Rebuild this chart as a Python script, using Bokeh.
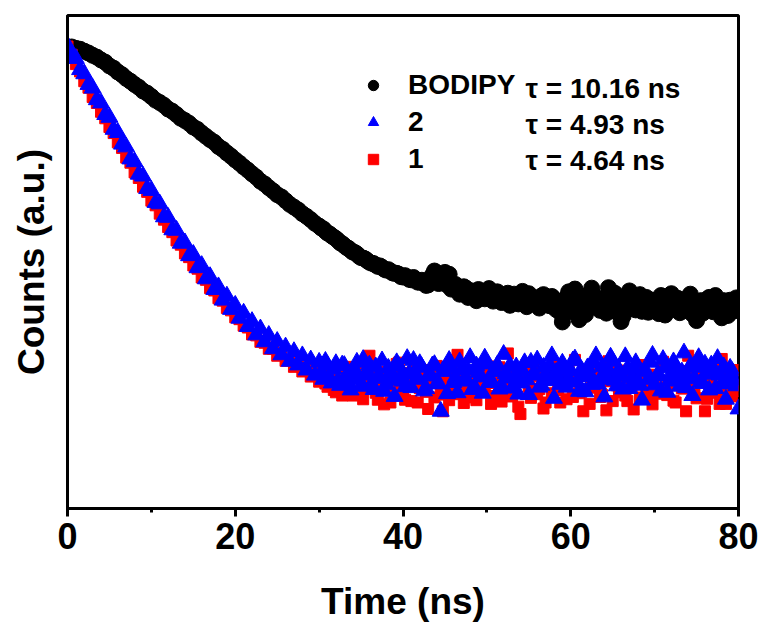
from bokeh.plotting import figure
from bokeh.models import (Range1d, SingleIntervalTicker, FixedTicker, Legend,
                          LegendItem, Label, ColumnDataSource)
from bokeh.embed import file_html
from bokeh.resources import INLINE

# ---------------- data ----------------
# main sampling grid (ns)
TIME_NS = [
    0.0, 0.5, 1.0, 1.5, 2.0, 2.5, 3.0, 3.5, 4.0, 4.5, 5.0, 5.5, 6.0, 6.5, 7.0, 7.5,
    8.0, 8.5, 9.0, 9.5, 10.0, 10.5, 11.0, 11.5, 12.0, 12.5, 13.0, 13.5, 14.0, 14.5,
    15.0, 15.5, 16.0, 16.5, 17.0, 17.5, 18.0, 18.5, 19.0, 19.5, 20.0, 20.5, 21.0,
    21.5, 22.0, 22.5, 23.0, 23.5, 24.0, 24.5, 25.0, 25.5, 26.0, 26.5, 27.0, 27.5,
    28.0, 28.5, 29.0, 29.5, 30.0, 30.5, 31.0, 31.5, 32.0, 32.5, 33.0, 33.5, 34.0,
    34.5, 35.0, 35.5, 36.0, 36.5, 37.0, 37.5, 38.0, 38.5, 39.0, 39.5, 40.0, 40.5,
    41.0, 41.5, 42.0, 42.5, 43.0, 43.5, 44.0, 44.5, 45.0, 45.5, 46.0, 46.5, 47.0,
    47.5, 48.0, 48.5, 49.0, 49.5, 50.0, 50.5, 51.0, 51.5, 52.0, 52.5, 53.0, 53.5,
    54.0, 54.5, 55.0, 55.5, 56.0, 56.5, 57.0, 57.5, 58.0, 58.5, 59.0, 59.5, 60.0,
    60.5, 61.0, 61.5, 62.0, 62.5, 63.0, 63.5, 64.0, 64.5, 65.0, 65.5, 66.0, 66.5,
    67.0, 67.5, 68.0, 68.5, 69.0, 69.5, 70.0, 70.5, 71.0, 71.5, 72.0, 72.5, 73.0,
    73.5, 74.0, 74.5, 75.0, 75.5, 76.0, 76.5, 77.0, 77.5, 78.0, 78.5, 79.0, 79.5,
    80.0,
]

# in-between samples of the tail (ns)
TIME_NS_TAIL = [
    30.25, 30.75, 31.25, 31.75, 32.25, 32.75, 33.25, 33.75, 34.25, 34.75,
    35.25, 35.75, 36.25, 36.75, 37.25, 37.75, 38.25, 38.75, 39.25, 39.75,
    40.25, 40.75, 41.25, 41.75, 42.25, 42.75, 43.25, 43.75, 44.25, 44.75,
    45.25, 45.75, 46.25, 46.75, 47.25, 47.75, 48.25, 48.75, 49.25, 49.75,
    50.25, 50.75, 51.25, 51.75, 52.25, 52.75, 53.25, 53.75, 54.25, 54.75,
    55.25, 55.75, 56.25, 56.75, 57.25, 57.75, 58.25, 58.75, 59.25, 59.75,
    60.25, 60.75, 61.25, 61.75, 62.25, 62.75, 63.25, 63.75, 64.25, 64.75,
    65.25, 65.75, 66.25, 66.75, 67.25, 67.75, 68.25, 68.75, 69.25, 69.75,
    70.25, 70.75, 71.25, 71.75, 72.25, 72.75, 73.25, 73.75, 74.25, 74.75,
    75.25, 75.75, 76.25, 76.75, 77.25, 77.75, 78.25, 78.75, 79.25, 79.75,
]

BODIPY_COUNTS = [
    99.6, 99.7, 99.4, 99.2, 98.8, 98.4, 97.9, 97.5, 96.9, 96.4, 95.6, 95.1, 94.3,
    93.7, 92.9, 92.3, 91.6, 91.0, 90.2, 89.7, 89.0, 88.2, 87.7, 87.1, 86.3, 85.8,
    85.1, 84.3, 83.8, 83.2, 82.4, 81.9, 81.1, 80.4, 79.7, 79.1, 78.2, 77.6, 76.8,
    76.1, 75.3, 74.6, 73.8, 73.1, 72.3, 71.6, 70.7, 70.1, 69.3, 68.6, 67.8, 67.3,
    66.5, 65.7, 65.1, 64.5, 63.7, 63.1, 62.4, 61.6, 61.0, 60.4, 59.5, 58.9, 58.3,
    57.4, 56.8, 56.2, 55.4, 55.0, 54.2, 53.9, 53.2, 52.9, 52.3, 52.1, 51.5, 51.3,
    50.8, 50.6, 50.0, 49.9, 49.4, 49.5, 48.9, 48.8, 48.3, 50.4, 50.9, 49.8, 51.0,
    50.6, 47.9, 47.0, 46.8, 47.6, 46.2, 45.9, 47.3, 46.6, 45.6, 46.9, 45.4, 46.0,
    45.1, 46.5, 44.7, 45.8, 45.2, 44.3, 46.4, 45.0, 44.1, 45.9, 44.6, 43.8, 45.3,
    44.2, 40.3, 45.6, 43.6, 47.4, 40.8, 44.9, 43.2, 47.6, 44.5, 42.8, 45.4, 47.7,
    43.9, 42.4, 40.4, 45.2, 47.0, 43.5, 44.8, 42.6, 45.6, 43.3, 44.2, 42.1, 45.3,
    43.0, 46.4, 44.4, 42.3, 45.1, 43.7, 42.0, 40.6, 44.9, 43.1, 45.6, 42.5, 44.3,
    41.2, 43.6, 45.0, 42.7, 44.8,
]

BODIPY_COUNTS_TAIL = [
    60.6, 59.9, 59.3, 58.6, 57.9, 57.2, 56.4, 55.8, 55.3, 54.5,
    54.1, 53.5, 53.0, 52.6, 52.4, 51.7, 51.6, 50.9, 50.8, 50.1,
    50.3, 49.5, 49.9, 48.9, 49.3, 48.2, 49.2, 51.3, 48.6, 50.2,
    48.3, 47.4, 48.4, 46.3, 47.9, 45.6, 47.0, 44.9, 46.2, 45.3,
    47.5, 44.8, 46.8, 44.5, 45.7, 43.9, 46.3, 44.2, 46.9, 43.6,
    45.5, 44.7, 43.3, 46.2, 44.0, 45.8, 43.0, 42.3, 44.8, 46.8,
    42.5, 44.1, 45.9, 41.9, 44.6, 46.1, 43.4, 45.2, 42.2, 44.0,
    46.5, 43.6, 41.6, 44.4, 45.8, 42.9, 46.2, 44.1, 42.4, 45.0,
    43.8, 46.0, 41.8, 44.6, 43.1, 45.4, 42.6, 44.2, 46.3, 43.0,
    44.5, 42.2, 45.2, 43.4, 46.0, 42.8, 44.9, 41.7, 43.9, 45.5,
]

COUNTS_2 = [
    100.0, 98.1, 97.2, 94.8, 93.9, 91.6, 90.8, 88.3, 87.6, 85.1, 84.5, 81.9, 81.2,
    78.7, 78.1, 75.5, 74.9, 72.2, 71.8, 69.1, 68.7, 66.1, 65.8, 63.0, 62.9, 60.2,
    60.1, 57.3, 57.4, 54.6, 54.9, 52.0, 52.5, 49.6, 50.1, 47.3, 47.9, 45.0, 45.9,
    43.0, 43.9, 41.1, 42.2, 39.3, 40.4, 37.5, 38.8, 36.0, 37.4, 34.5, 36.1, 33.2,
    34.9, 31.8, 33.9, 31.0, 33.0, 29.9, 32.1, 28.8, 31.6, 27.9, 30.9, 27.1, 31.3,
    26.6,
    30.9, 27.0, 29.1, 31.6, 26.4, 28.8, 31.0, 25.7, 28.4, 31.9,
    26.8, 29.3, 24.2, 30.7, 27.5, 32.4, 26.1, 29.0, 31.3, 25.4,
    28.6, 30.8, 26.9, 21.0, 29.6, 32.0, 27.2, 25.0, 30.1, 28.0,
    32.6, 26.3, 29.4, 24.9, 31.2, 27.6, 29.8, 25.8, 33.3, 28.2,
    26.0, 30.6, 27.1, 31.5, 24.6, 29.0, 32.1, 26.6, 28.9, 30.9,
    23.8, 28.1, 31.4, 26.2, 29.7, 32.3, 25.3, 28.5, 30.4, 26.8,
    33.0, 27.9, 24.1, 29.9, 31.8, 26.5, 28.7, 32.8, 25.9, 30.2,
    27.4, 23.4, 29.5, 31.6, 26.7, 28.9, 32.2, 25.1, 29.2, 30.8,
    26.4, 33.6, 28.0, 24.4, 30.5, 27.3, 31.2, 25.6, 29.0, 32.4,
    26.9, 23.6, 30.3, 27.7, 21.5,
]

COUNTS_2_TAIL = [
    29.4, 31.8, 28.2, 30.1, 27.6, 31.0, 28.7, 25.6, 30.0, 27.8,
    32.2, 29.5, 26.9, 30.6, 28.1, 25.3, 30.3, 27.7, 31.5, 28.6,
    26.3, 29.2, 32.0, 27.9, 30.5, 25.9, 28.9, 31.1, 27.0, 29.8,
    24.8, 30.4, 28.3, 31.7, 27.5, 29.9, 25.7, 30.8, 28.4, 32.5,
    27.2, 29.6, 31.0, 26.4, 29.1, 30.9, 28.2, 24.7, 29.7, 27.8,
    31.6, 28.8, 26.2, 30.5, 27.6, 33.0, 29.4, 26.8, 30.1, 28.0,
    31.9, 27.3, 30.0, 25.2, 29.0, 31.4, 26.9, 30.6, 28.5, 32.7,
    27.7, 29.9, 25.8, 30.2, 28.3, 31.5, 26.6, 29.8, 27.9, 33.1,
    28.6, 25.4, 30.4, 27.5, 31.7, 28.4, 29.5, 26.1, 30.8, 28.2,
    32.6, 27.0, 29.3, 31.0, 25.9, 28.8, 30.6, 27.4, 29.6, 26.5,
]

COUNTS_1 = [
    99.8, 98.0, 96.0, 94.4, 92.3, 90.9, 88.9, 87.6, 85.7, 84.3, 82.4, 81.1, 79.1,
    77.9, 75.8, 74.7, 72.6, 71.4, 69.5, 68.4, 66.5, 65.5, 63.7, 62.4, 60.8, 59.7,
    57.9, 57.0, 55.1, 54.3, 52.5, 51.8, 49.9, 49.4, 47.6, 47.1, 45.4, 44.9, 43.3,
    42.8, 41.3, 40.9, 39.5, 39.1, 37.6, 37.4, 36.0, 35.8, 34.5, 34.5, 33.0, 33.2,
    31.9, 32.0, 30.6, 31.1, 29.6, 30.3, 28.5, 29.6, 27.4, 28.9, 26.3, 28.2, 25.1,
    27.9,
    26.6, 30.0, 24.4, 28.5, 31.3, 25.8, 33.0, 27.3, 23.5, 29.5,
    26.4, 22.9, 29.0, 31.5, 25.0, 28.0, 23.2, 30.2, 26.0, 28.7,
    21.5, 27.2, 30.8, 24.6, 28.2, 23.4, 26.7, 33.2, 25.4, 29.5,
    24.0, 27.6, 31.1, 25.2, 28.8, 22.6, 27.1, 30.5, 25.3, 33.5,
    24.2, 28.1, 20.4, 29.4, 26.3, 31.4, 24.7, 28.4, 22.9, 27.8,
    30.9, 25.6, 29.0, 23.6, 27.5, 32.1, 24.9, 21.0, 28.6, 26.1,
    30.3, 24.1, 27.7, 31.8, 23.2, 26.6, 29.8, 24.4, 28.3, 21.4,
    26.9, 31.0, 25.7, 23.8, 28.9, 26.2, 31.7, 24.5, 27.4, 22.9,
    29.7, 25.9, 33.0, 27.2, 23.8, 28.7, 21.0, 26.8, 30.7, 25.0,
    32.3, 22.6, 27.9, 29.9, 25.4,
]

COUNTS_1_TAIL = [
    29.1, 27.0, 28.7, 25.6, 29.7, 24.4, 27.9, 30.6, 25.3, 28.6,
    23.6, 27.2, 30.1, 25.0, 27.7, 22.5, 29.0, 25.5, 31.2, 26.4,
    23.5, 29.3, 26.8, 22.9, 28.2, 25.2, 29.9, 24.0, 27.4, 21.0,
    27.0, 30.4, 24.7, 29.1, 22.8, 26.5, 29.2, 23.4, 27.3, 25.7,
    30.7, 24.3, 28.3, 23.1, 26.2, 29.9, 25.4, 22.0, 27.6, 31.1,
    23.9, 28.7, 25.8, 21.6, 29.6, 24.9, 28.1, 22.9, 26.4, 30.2,
    24.1, 27.8, 25.2, 29.5, 22.6, 27.0, 28.5, 24.5, 21.2, 27.5,
    30.6, 25.1, 28.4, 23.2, 26.3, 30.1, 24.0, 28.0, 25.5, 22.5,
    28.8, 24.8, 30.9, 26.7, 23.3, 27.9, 26.0, 21.0, 29.3, 24.6,
    27.2, 30.2, 23.7, 26.9, 28.9, 22.6, 26.1, 29.4, 24.2, 26.6,
]

SERIES_NAMES = ["BODIPY", "2", "1"]
LIFETIMES = ["\u03c4 = 10.16 ns", "\u03c4 = 4.93 ns", "\u03c4 = 4.64 ns"]

FONT = "Liberation Sans"


def src(times, vals):
    n = min(len(times), len(vals))
    return ColumnDataSource(dict(t=times[:n], v=vals[:n]))


p = figure(width=761, height=626, output_backend="svg", toolbar_location=None,
           x_range=Range1d(0, 80), y_range=Range1d(0, 106.5),
           min_border_left=67, min_border_right=23, min_border_top=15,
           min_border_bottom=118)

p.grid.visible = False
p.outline_line_color = "black"
p.outline_line_width = 3
p.background_fill_color = "white"
p.border_fill_color = "white"

BLACK, RED, BLUE = "black", "#ff0000", "#0000ff"

r_b = p.scatter("t", "v", source=src(TIME_NS, BODIPY_COUNTS), marker="circle",
                size=16, fill_color=BLACK, line_color=BLACK)
p.scatter("t", "v", source=src(TIME_NS_TAIL, BODIPY_COUNTS_TAIL), marker="circle",
          size=16, fill_color=BLACK, line_color=BLACK)
r_1 = p.scatter("t", "v", source=src(TIME_NS, COUNTS_1), marker="square",
                size=11, fill_color=RED, line_color=RED)
p.scatter("t", "v", source=src(TIME_NS_TAIL, COUNTS_1_TAIL), marker="square",
          size=11, fill_color=RED, line_color=RED)
r_2 = p.scatter("t", "v", source=src(TIME_NS, COUNTS_2), marker="triangle",
                size=17, fill_color=BLUE, line_color=BLUE)
p.scatter("t", "v", source=src(TIME_NS_TAIL, COUNTS_2_TAIL), marker="triangle",
          size=17, fill_color=BLUE, line_color=BLUE)

# x axis
xa = p.xaxis[0]
xa.ticker = SingleIntervalTicker(interval=20, num_minor_ticks=2)
xa.axis_label = "Time (ns)"
xa.axis_line_width = 3
xa.major_tick_line_width = 3
xa.minor_tick_line_width = 3
xa.major_tick_in = 0
xa.major_tick_out = 8
xa.minor_tick_in = 0
xa.minor_tick_out = 4
xa.major_label_text_font = FONT
xa.major_label_text_font_style = "bold"
xa.major_label_text_font_size = "36px"
xa.major_label_text_color = "black"
xa.major_label_standoff = 6
xa.axis_label_text_font = FONT
xa.axis_label_text_font_style = "bold"
xa.axis_label_text_font_size = "37px"
xa.axis_label_text_color = "black"
xa.axis_label_standoff = 29

# y axis (no ticks)
ya = p.yaxis[0]
ya.ticker = FixedTicker(ticks=[])
ya.axis_label = "Counts (a.u.)"
ya.axis_line_width = 3
ya.major_tick_in = 0
ya.major_tick_out = 0
ya.minor_tick_in = 0
ya.minor_tick_out = 0
ya.major_label_standoff = 0
ya.axis_label_text_font = FONT
ya.axis_label_text_font_style = "bold"
ya.axis_label_text_font_size = "37px"
ya.axis_label_text_color = "black"
ya.axis_label_standoff = 16

legend = Legend(items=[LegendItem(label=SERIES_NAMES[0], renderers=[r_b]),
                       LegendItem(label=SERIES_NAMES[1], renderers=[r_2]),
                       LegendItem(label=SERIES_NAMES[2], renderers=[r_1])],
                location=(293, 333), padding=0, margin=0, spacing=5,
                glyph_width=26, glyph_height=26, label_height=31,
                label_standoff=22, border_line_alpha=0, background_fill_alpha=0,
                label_text_font=FONT, label_text_font_style="bold",
                label_text_font_size="28px", label_text_color="black")
p.add_layout(legend)

tau_x = [458, 458, 458]
tau_y = [420, 384, 348]
for txt, lx, ly in zip(LIFETIMES, tau_x, tau_y):
    p.add_layout(Label(x=lx, y=ly, x_units="screen", y_units="screen", text=txt,
                       text_font=FONT, text_font_style="bold",
                       text_font_size="28px", text_color="black",
                       text_baseline="middle"))

open("out.html", "w").write(file_html(p, INLINE))
